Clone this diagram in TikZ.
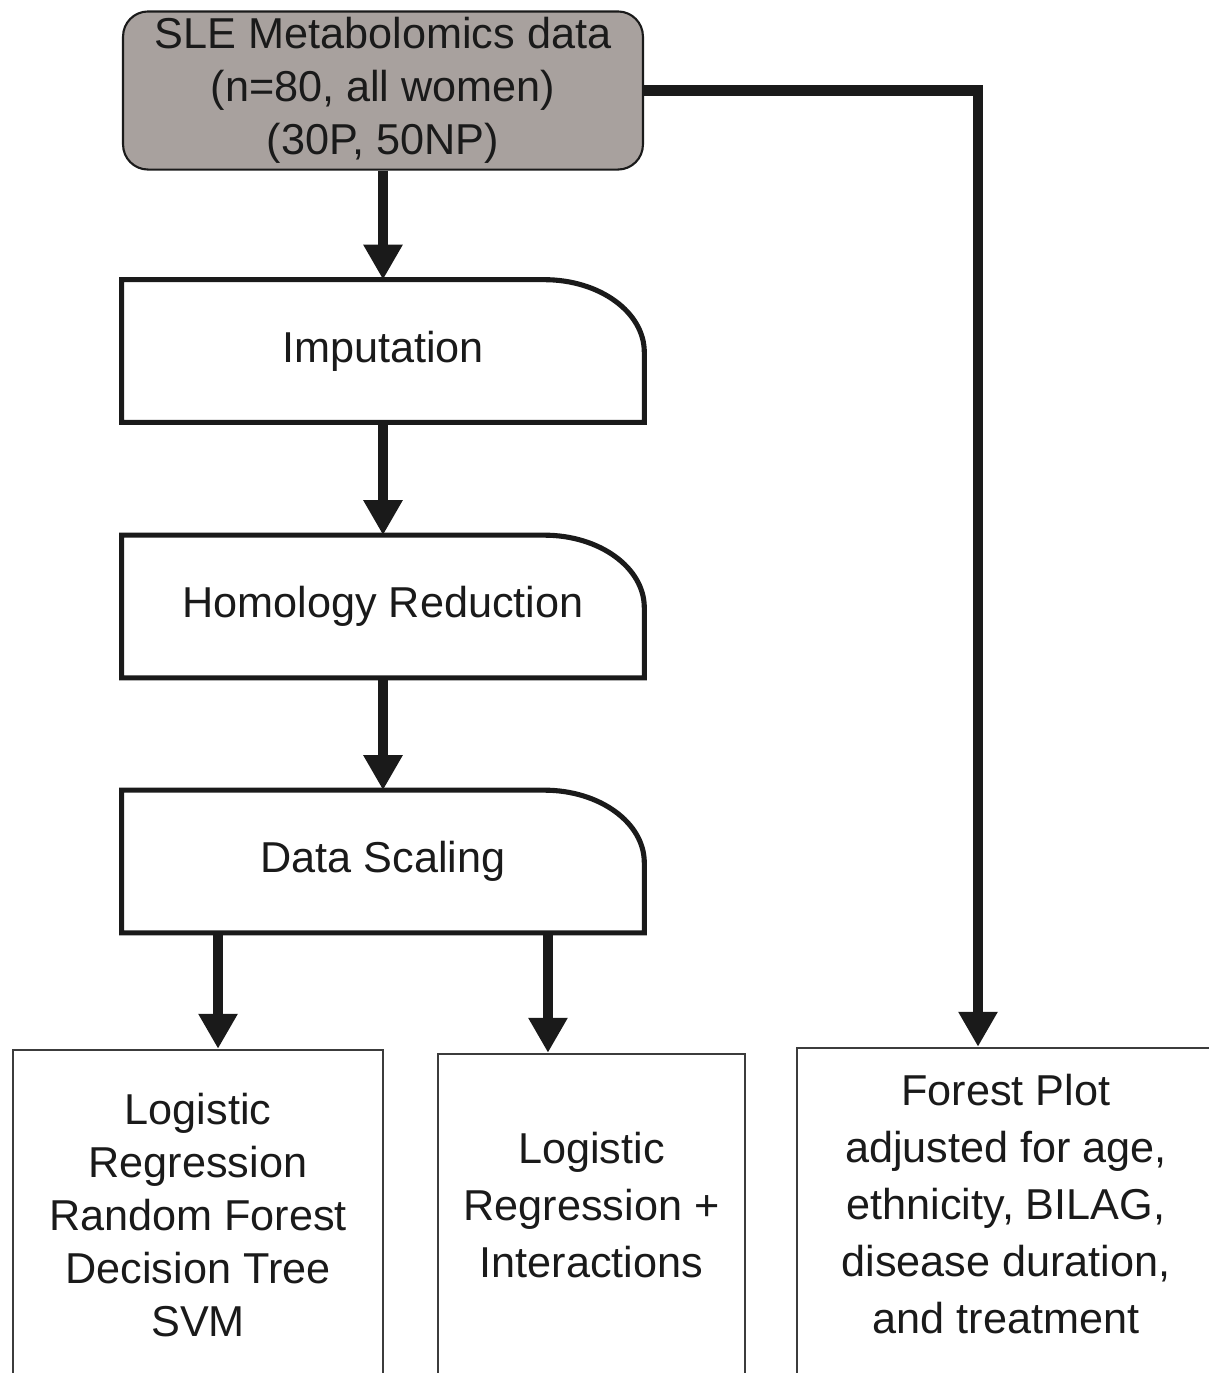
\documentclass[tikz,border=0pt]{standalone}
\usepackage{fontspec}
\setmainfont{Liberation Sans}
\usepackage{tikz}
\usetikzlibrary{positioning, arrows.meta}
\definecolor{datagray}{RGB}{168,161,158}
\definecolor{inkblack}{RGB}{26,26,26}
\definecolor{edgegray}{RGB}{60,60,60}

\begin{document}
\begin{tikzpicture}[
    x=0.02cm, y=-0.02cm,
    every node/.style={font=\fontsize{24.6}{30.2}\selectfont, align=center, text=inkblack},
    databox/.style={draw=inkblack, fill=datagray, rectangle, rounded corners=0.5cm, line width=1.2pt, minimum width=10.4cm, minimum height=3.1cm},
    stagebox/.style={rectangle, minimum width=10.44cm, minimum height=2.84cm},
    stageline/.style={draw=inkblack, line width=2.9pt, line join=miter},
    resultbox/.style={draw=edgegray, rectangle, line width=1.4pt},
    widebox/.style={resultbox, font=\fontsize{24.6}{32.4}\selectfont},
    arrow/.style={-{Triangle[width=0.74cm, length=0.7cm]}, line width=5.7pt, draw=inkblack}
]
\useasboundingbox (0,0) rectangle (1208,1373);

\node[databox] (D0) at (383,90.5) {SLE Metabolomics data\\(n=80, all women)\\(30P, 50NP)};
\node[stagebox] (S1) at (383,351) {Imputation};
\node[stagebox] (S2) at (383,606.5) {Homology Reduction};
\node[stagebox] (S3) at (383,861.5) {Data Scaling};
\node[resultbox, minimum width=7.4cm, minimum height=6.6cm] (M1) at (198,1215) {Logistic\\Regression\\Random Forest\\Decision Tree\\SVM};
\node[widebox, minimum width=6.14cm, minimum height=6.52cm] (M2) at (591.5,1217) {Logistic\\Regression +\\Interactions\\[-0.66cm]};
\node[widebox, minimum width=8.36cm, minimum height=6.64cm] (F1) at (1006,1214) {Forest Plot\\adjusted for age,\\ethnicity, BILAG,\\disease duration,\\and treatment\\[-0.74cm]};

% delay-like outlines, one rounded corner
\foreach \n in {S1,S2,S3}
    \draw[stageline] ([xshift=-2cm]\n.north east) -- (\n.north west) -- (\n.south west) -- (\n.south east) -- ([yshift=-1.45cm]\n.north east) arc[start angle=0, end angle=90, x radius=2cm, y radius=1.45cm] -- cycle;

\draw[arrow] (D0) -- (S1);
\draw[arrow] (S1) -- (S2);
\draw[arrow] (S2) -- (S3);
\draw[arrow] ([xshift=-3.3cm]S3.south) -- ([xshift=-3.3cm]S3.south |- M1.north);
\draw[arrow] ([xshift=3.3cm]S3.south) -- ([xshift=3.3cm]S3.south |- M2.north);
\draw[arrow, line join=miter] (D0.east) -| ([xshift=-0.56cm]F1.north);

\end{tikzpicture}
\end{document}
